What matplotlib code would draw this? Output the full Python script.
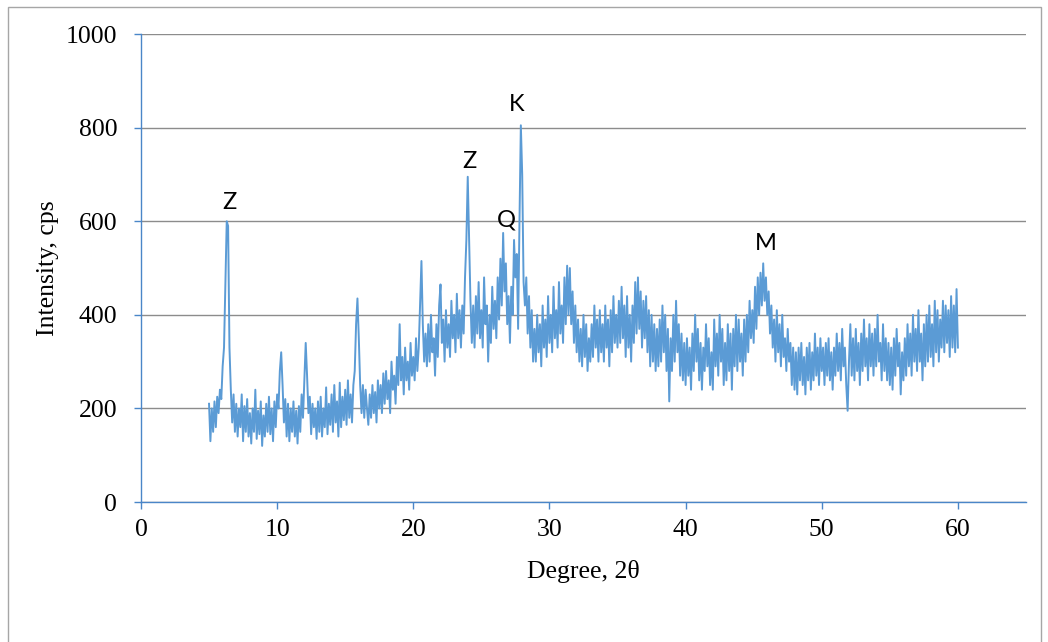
import numpy as np
import matplotlib
matplotlib.use("Agg")
import matplotlib.pyplot as plt
from matplotlib.patches import Rectangle

# diffraction angle grid, 0.1 degree step from 5 to 60
two_theta = np.round(np.arange(5.0, 60.05, 0.1), 1)

# intensity (cps), ten values per degree
intensity = [
    210, 130, 200, 150, 215, 160, 225, 190, 240, 220,   # 5
    290, 330, 460, 600, 590, 330, 240, 170, 230, 150,   # 6
    210, 140, 200, 160, 230, 130, 205, 150, 220, 140,   # 7
    190, 125, 200, 150, 240, 135, 195, 145, 215, 120,   # 8
    185, 140, 210, 150, 225, 145, 200, 130, 215, 160,   # 9
    230, 200, 280, 320, 250, 170, 220, 140, 210, 130,   # 10
    200, 150, 215, 140, 195, 125, 205, 150, 230, 180,   # 11
    260, 340, 270, 190, 225, 145, 210, 160, 200, 135,   # 12
    215, 150, 225, 140, 200, 160, 245, 145, 210, 165,   # 13
    230, 150, 250, 170, 215, 140, 255, 160, 225, 175,   # 14
    240, 165, 260, 180, 230, 170, 250, 280, 380, 435,   # 15
    350, 250, 190, 250, 180, 240, 200, 165, 230, 180,   # 16
    250, 190, 235, 170, 260, 200, 250, 190, 275, 210,   # 17
    280, 220, 260, 190, 300, 240, 270, 210, 310, 250,   # 18
    380, 260, 310, 230, 330, 260, 300, 240, 340, 270,   # 19
    310, 260, 350, 280, 330, 420, 515, 380, 300, 360,   # 20
    290, 380, 300, 400, 320, 350, 270, 380, 310, 420,   # 21
    465, 340, 390, 300, 410, 330, 380, 310, 430, 350,   # 22
    400, 320, 445, 350, 410, 330, 420, 360, 480, 560,   # 23
    695, 560, 430, 340, 420, 330, 440, 360, 470, 350,   # 24
    410, 330, 480, 380, 420, 300, 400, 340, 460, 370,   # 25
    430, 350, 480, 390, 520, 420, 575, 450, 510, 380,   # 26
    440, 340, 460, 400, 560, 480, 530, 370, 600, 805,   # 27
    700, 470, 420, 480, 360, 440, 330, 410, 300, 370,   # 28
    300, 400, 320, 380, 290, 420, 330, 390, 310, 440,   # 29
    340, 400, 320, 460, 350, 410, 330, 470, 360, 420,   # 30
    340, 480, 380, 505, 400, 500, 380, 450, 340, 420,   # 31
    320, 390, 300, 370, 290, 400, 310, 380, 280, 350,   # 32
    300, 380, 310, 420, 330, 390, 300, 410, 320, 380,   # 33
    300, 420, 330, 390, 290, 410, 320, 440, 340, 400,   # 34
    330, 430, 340, 460, 350, 420, 310, 440, 330, 400,   # 35
    300, 420, 340, 470, 360, 480, 370, 450, 330, 430,   # 36
    350, 440, 320, 410, 290, 400, 300, 380, 280, 370,   # 37
    290, 390, 300, 420, 320, 400, 280, 370, 215, 350,   # 38
    280, 400, 300, 430, 320, 380, 270, 360, 260, 340,   # 39
    250, 350, 270, 330, 240, 360, 280, 400, 300, 370,   # 40
    260, 340, 240, 330, 280, 380, 290, 350, 250, 320,   # 41
    240, 390, 290, 360, 270, 400, 300, 370, 250, 340,   # 42
    260, 380, 280, 360, 240, 370, 290, 400, 280, 390,   # 43
    300, 360, 270, 390, 300, 400, 320, 430, 350, 410,   # 44
    340, 460, 370, 480, 400, 490, 420, 510, 430, 480,   # 45
    400, 450, 360, 420, 330, 390, 300, 410, 320, 380,   # 46
    290, 400, 310, 350, 280, 370, 300, 340, 250, 330,   # 47
    240, 320, 230, 330, 260, 340, 250, 310, 230, 330,   # 48
    260, 340, 240, 320, 260, 360, 270, 330, 250, 350,   # 49
    280, 330, 250, 340, 270, 350, 260, 320, 240, 330,   # 50
    270, 360, 280, 340, 260, 370, 290, 330, 250, 195,   # 51
    300, 380, 270, 350, 260, 370, 280, 340, 250, 360,   # 52
    280, 390, 290, 350, 260, 380, 290, 360, 270, 370,   # 53
    290, 400, 300, 340, 260, 380, 280, 350, 260, 340,   # 54
    250, 330, 240, 350, 270, 370, 290, 340, 230, 320,   # 55
    260, 350, 270, 380, 290, 360, 270, 400, 300, 370,   # 56
    280, 410, 300, 360, 260, 380, 290, 400, 300, 420,   # 57
    310, 380, 290, 430, 320, 410, 300, 390, 330, 430,   # 58
    320, 420, 340, 410, 310, 440, 330, 420, 320, 455,   # 59
    330,                                                # 60
]

# phase labels and where they sit
peak_labels = ["Z", "Z", "Q", "K", "M"]
label_x = [6.5, 24.15, 26.85, 27.6, 45.9]
label_y = [640, 727, 603, 850, 552]

x_ticks = [0, 10, 20, 30, 40, 50, 60]
y_ticks = [0, 200, 400, 600, 800, 1000]

line_blue = "#5B9BD5"
axis_blue = "#4A86C8"
grid_gray = "#8C8C8C"

fig = plt.figure(figsize=(10.48, 6.42), dpi=100)
ax = fig.add_axes([0.1345, 0.218, 0.8445, 0.729])

ax.plot(two_theta, intensity, color=line_blue, lw=1.4)

ax.set_xlim(0, 65)
ax.set_ylim(0, 1000)
ax.set_xticks(x_ticks)
ax.set_yticks(y_ticks)

ax.yaxis.grid(True, color=grid_gray, lw=1.0)
ax.set_axisbelow(True)
for side in ["top", "right"]:
    ax.spines[side].set_visible(False)
for side in ["left", "bottom"]:
    ax.spines[side].set_color(axis_blue)
    ax.spines[side].set_linewidth(1.0)

ax.tick_params(axis="both", color=axis_blue, length=5, width=1,
               labelsize=18.5)
ax.tick_params(axis="y", pad=12)
ax.tick_params(axis="x", pad=7)
for lab in ax.get_xticklabels() + ax.get_yticklabels():
    lab.set_family("Liberation Serif")

ax.set_xlabel("Degree, 2θ", family="Liberation Serif", fontsize=18.5,
              labelpad=14)
ax.set_ylabel("Intensity, cps", family="Liberation Serif", fontsize=18.5,
              labelpad=5)

for txt, tx, ty in zip(peak_labels, label_x, label_y):
    ax.text(tx, ty, txt, family="Lato", fontsize=17,
            ha="center", va="center")

# thin grey frame round the whole chart
fig.patches.append(Rectangle((8 / 1048, -0.05), 1033 / 1048, 1.05 - 7 / 642,
                             transform=fig.transFigure, fill=False,
                             edgecolor="#A6A6A6", lw=1.0))

fig.savefig("out.png", dpi=100)
